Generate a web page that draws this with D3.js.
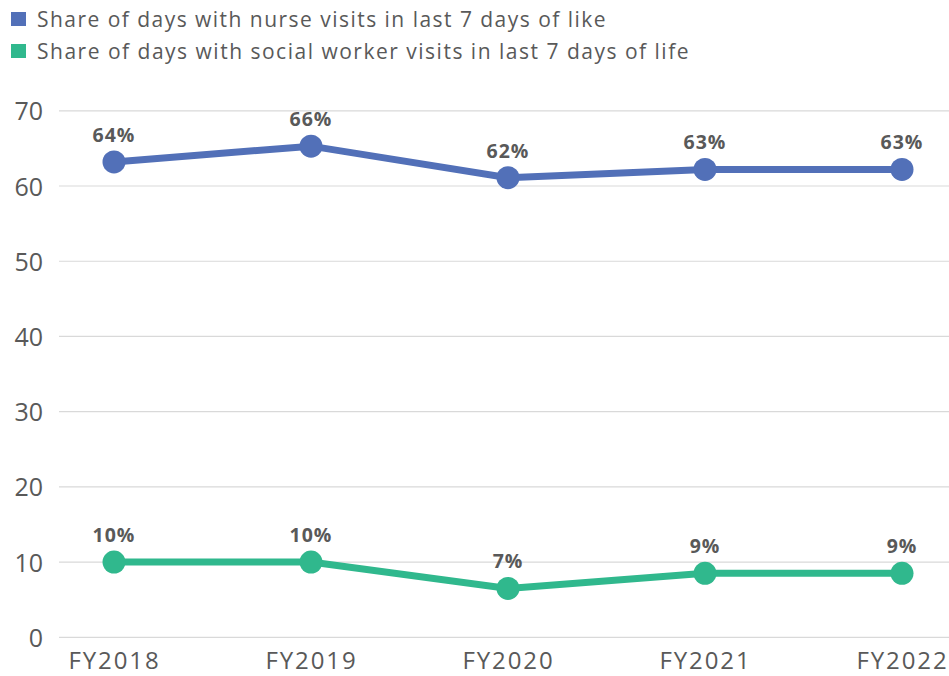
<!DOCTYPE html>
<html><head><meta charset="utf-8">
<script src="https://cdn.jsdelivr.net/npm/d3@7"></script>
<style>body{margin:0;background:#fff;}svg{display:block;}</style>
</head><body>
<svg id="c" width="949" height="676"></svg>
<script>
const categories = ["FY2018","FY2019","FY2020","FY2021","FY2022"];
const nurse = [63.2, 65.3, 61.1, 62.2, 62.2];
const nurseLabels = ["64%","66%","62%","63%","63%"];
const social = [10.0, 10.0, 6.5, 8.5, 8.5];
const socialLabels = ["10%","10%","7%","9%","9%"];
const yTicks = [0,10,20,30,40,50,60,70];
const seriesNames = ["Share of days with nurse visits in last 7 days of like","Share of days with social worker visits in last 7 days of life"];
const colors = ["#5270b8","#30b88d"];

const svg = d3.select("#c");
const font = "'Open Sans', sans-serif";
const textColor = "#595959";
const x = d3.scalePoint().domain(categories).range([114, 902]);
const y = d3.scaleLinear().domain([0,70]).range([637.3, 110.8]);

function fitWidth(sel, w){
  sel.each(function(){
    const cur = this.getComputedTextLength();
    const n = this.textContent.length;
    if(n>1) d3.select(this).attr("letter-spacing", ((w - cur)/n).toFixed(3));
  });
}

// gridlines
svg.append("g").selectAll("line").data(yTicks).join("line")
  .attr("x1",59).attr("x2",949).attr("y1",d=>y(d)).attr("y2",d=>y(d))
  .attr("stroke","#d9d9d9").attr("stroke-width",1.2);

// y axis labels
const yAxis = svg.append("g").attr("transform","translate(43,0)")
  .call(d3.axisLeft(y).tickValues(yTicks).tickSize(0).tickPadding(0));
yAxis.select(".domain").remove();
yAxis.selectAll("text").attr("font-family",font).attr("font-size",25).attr("fill",textColor).attr("dy","0.36em");

// x axis labels
const xAxis = svg.append("g").attr("transform","translate(0,646)")
  .call(d3.axisBottom(x).tickSize(0).tickPadding(0));
xAxis.select(".domain").remove();
xAxis.selectAll("text").attr("font-family",font).attr("font-size",24).attr("fill",textColor).attr("dy","0.95em");
fitWidth(xAxis.selectAll("text"), 92);

const series = [
  {vals:nurse, labels:nurseLabels, color:colors[0]},
  {vals:social, labels:socialLabels, color:colors[1]}
];
const line = d3.line().x((d,i)=>x(categories[i])).y(d=>y(d));
series.forEach(s=>{
  const g = svg.append("g");
  g.append("path").attr("d",line(s.vals)).attr("fill","none").attr("stroke",s.color).attr("stroke-width",7);
  g.selectAll("circle").data(s.vals).join("circle")
    .attr("cx",(d,i)=>x(categories[i])).attr("cy",d=>y(d)).attr("r",11.5).attr("fill",s.color);
  g.selectAll("text").data(s.vals).join("text")
    .attr("x",(d,i)=>x(categories[i])).attr("y",d=>y(d)-20)
    .attr("text-anchor","middle").attr("font-family",font).attr("font-weight","bold")
    .attr("font-size",19.5).attr("letter-spacing",1).attr("fill",textColor).text((d,i)=>s.labels[i]);
});

// legend
const lg = svg.append("g");
const legendW = [570, 653];
seriesNames.forEach((n,i)=>{
  lg.append("rect").attr("x",11).attr("y",12+i*32).attr("width",15).attr("height",14).attr("fill",colors[i]);
  const t = lg.append("text").attr("x",37).attr("y",27+i*32).attr("font-family",font).attr("font-size",21)
    .attr("fill",textColor).text(n);
  fitWidth(t, legendW[i]);
});
</script>
</body></html>
